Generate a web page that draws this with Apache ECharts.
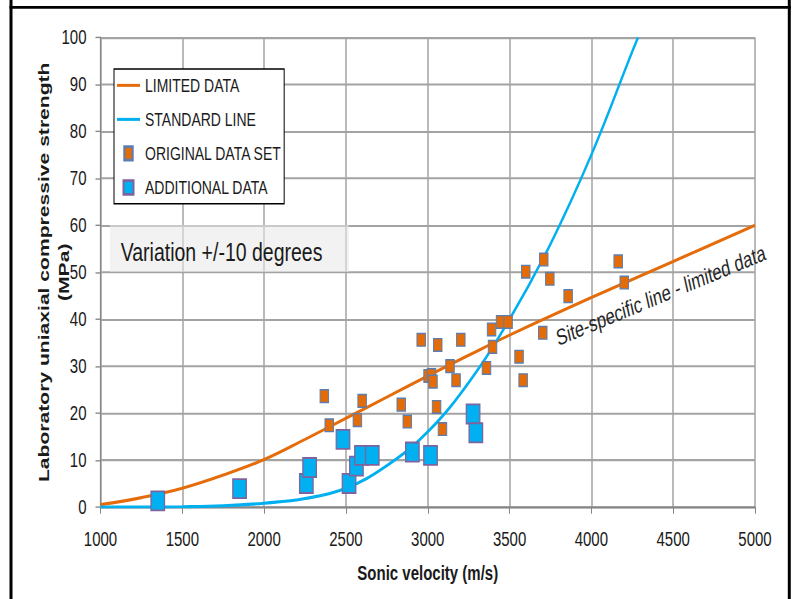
<!DOCTYPE html>
<html>
<head>
<meta charset="utf-8">
<script src="https://cdn.jsdelivr.net/npm/echarts@6/dist/echarts.min.js"></script>
<style>
html{margin:0;padding:0;background:#fff;overflow:hidden;}
body{margin:0;padding:0;background:#fff;width:792px;height:599px;}
#chart{width:792px;height:440px;transform:scaleY(1.36136);transform-origin:0 0;}
</style>
</head>
<body>
<div id="chart"></div>
<script>
// ---- data ----
const legendNames = ['LIMITED DATA', 'STANDARD LINE', 'ORIGINAL DATA SET', 'ADDITIONAL DATA'];

const limitedX = [1000, 1250, 1500, 1750, 2000, 2250, 2500, 2750, 3000, 3250, 3500, 4000, 4500, 5000];
const limitedY = [0.5, 2.0, 4.0, 6.8, 10.1, 14.4, 18.9, 23.4, 27.9, 32.3, 36.6, 44.6, 52.3, 60.0];

const standardX = [1000, 1250, 1500, 1750, 2000, 2250, 2500, 2750, 3000, 3250, 3500, 3750, 4000, 4250, 4285];
const standardY = [0, 0, 0.05, 0.25, 0.8, 1.8, 4.0, 8.8, 16.0, 26.5, 40.0, 56.0, 75.0, 97.0, 100];

const origX = [2368, 2398, 2570, 2599, 2838, 2875, 2960, 3002, 3023, 3032, 3061, 3054, 3090, 3136, 3173,
               3202, 3359, 3390, 3396, 3445, 3491, 3558, 3583, 3599, 3709, 3703, 3746, 3858, 4164, 4201];
const origY = [23.6, 17.4, 18.5, 22.6, 21.8, 18.2, 35.6, 27.9, 28.1, 26.7, 34.5, 21.3, 16.6, 30.0, 27.0,
               35.6, 29.6, 37.8, 34.1, 39.4, 39.4, 32.0, 27.0, 50.1, 52.7, 37.1, 48.6, 44.9, 52.3, 47.8];

const addX = [1350, 1850, 2258, 2278, 2482, 2519, 2564, 2595, 2661, 2906, 3017, 3277, 3294];
const addY = [1.3, 3.9, 5.0, 8.4, 14.4, 5.0, 8.7, 11.0, 11.0, 11.7, 11.0, 19.8, 15.8];

const xAxisMin = 1000, xAxisMax = 5000, xAxisStep = 500;
const yAxisMin = 0, yAxisMax = 100, yAxisStep = 10;

const xTitle = 'Sonic velocity (m/s)';
const yTitle = 'Laboratory uniaxial compressive strength\n(MPa)';
const boxNote = 'Variation +/-10 degrees';
const lineNote = 'Site-specific line - limited data';

// ---- chart ----
const FONT = '"Liberation Sans", Arial, sans-serif';
const pairs = (xs, ys) => xs.map((x, i) => [x, ys[i]]);

const chart = echarts.init(document.getElementById('chart'), null, {renderer: 'svg'});

const axisCommon = {
  axisLine: {show: true, onZero: false, lineStyle: {color: '#868686', width: 1.2}},
  axisTick: {show: true, inside: false, length: 5, lineStyle: {color: '#868686', width: 1}},
  splitLine: {show: true, lineStyle: {color: '#a3a3a3', width: 1.5}}
};

const legendIcons = ['path://M0 0H23V2.2H0Z', 'path://M0 0H23V2.2H0Z', 'path://M0 0H8.4V10H0Z', 'path://M0 0H10V10H0Z'];

const option = {
  animation: false,
  backgroundColor: '#ffffff',
  grid: {left: 100.5, right: 37, top: 27.5, bottom: 67.6, containLabel: false},
  xAxis: Object.assign({
    type: 'value', min: xAxisMin, max: xAxisMax, interval: xAxisStep,
    name: xTitle, nameLocation: 'middle', nameGap: 41,
    nameTextStyle: {fontFamily: FONT, fontSize: 15, fontWeight: 'bold', color: '#1a1a1a'},
    axisLabel: {margin: 16, fontFamily: FONT, fontSize: 15, color: '#1a1a1a', formatter: v => String(v)}
  }, axisCommon),
  yAxis: Object.assign({
    type: 'value', min: yAxisMin, max: yAxisMax, interval: yAxisStep,
    axisLabel: {margin: 14, fontFamily: FONT, fontSize: 15, color: '#1a1a1a', formatter: v => String(v)}
  }, axisCommon),
  legend: {
    show: true, orient: 'vertical', left: 114, top: 50.7,
    padding: [5, 2, 5, 3], itemGap: 11, itemWidth: 23, itemHeight: 10,
    backgroundColor: '#ffffff', borderColor: '#000000', borderWidth: 1, borderRadius: 0,
    textStyle: {fontFamily: FONT, fontSize: 14, color: '#1a1a1a', lineHeight: 14},
    selectedMode: false,
    data: legendNames.map((n, i) => ({name: n, icon: legendIcons[i]}))
  },
  series: [
    {
      name: legendNames[0], type: 'line', data: pairs(limitedX, limitedY),
      smooth: 0.4, symbol: 'none', z: 2,
      lineStyle: {color: '#E46C0A', width: 2.3}, itemStyle: {color: '#E46C0A'},
      emphasis: {disabled: true}
    },
    {
      name: legendNames[1], type: 'line', data: pairs(standardX, standardY),
      smooth: 0.4, symbol: 'none', z: 2,
      lineStyle: {color: '#00B0F0', width: 2.3}, itemStyle: {color: '#00B0F0'},
      emphasis: {disabled: true}
    },
    {
      name: legendNames[2], type: 'scatter', data: pairs(origX, origY),
      symbol: 'rect', symbolSize: [8.5, 9.3], z: 3,
      itemStyle: {color: '#E36C09', borderColor: '#5B7DB1', borderWidth: 1, opacity: 1},
      emphasis: {disabled: true}
    },
    {
      name: legendNames[3], type: 'scatter', data: pairs(addX, addY),
      symbol: 'rect', symbolSize: [13.5, 14], z: 4,
      itemStyle: {color: '#00B0F0', borderColor: '#7E649E', borderWidth: 1.3, opacity: 1},
      emphasis: {disabled: true}
    }
  ],
  graphic: [
    {type: 'line', z: 10, shape: {x1: 11, y1: 0, x2: 11, y2: 445}, style: {stroke: '#000', lineWidth: 3}},
    {type: 'line', z: 10, shape: {x1: 789.3, y1: 0, x2: 789.3, y2: 445}, style: {stroke: '#000', lineWidth: 3}},
    {type: 'line', z: 10, shape: {x1: 9.5, y1: 5.4, x2: 790.8, y2: 5.4}, style: {stroke: '#000', lineWidth: 2}},
    {type: 'rect', z: 5, shape: {x: 110, y: 165.3, width: 239, height: 34.5},
     style: {fill: 'rgba(232,232,232,0.56)'}},
    {type: 'text', z: 6, x: 120.7, y: 184.9,
     style: {text: boxNote, font: '19.5px ' + FONT, fill: '#1a1a1a',
             textAlign: 'left', textVerticalAlign: 'middle', align: 'left', verticalAlign: 'middle'}},
    {type: 'text', z: 6, x: 660.7, y: 216.7, rotation: 17 * Math.PI / 180,
     style: {text: lineNote, font: '16.5px ' + FONT, fill: '#262626',
             textAlign: 'center', textVerticalAlign: 'middle', align: 'center', verticalAlign: 'middle'}},
    {type: 'text', z: 6, x: 53.5, y: 200, rotation: Math.PI / 2,
     style: {text: yTitle, font: 'bold 15.5px ' + FONT, fill: '#1a1a1a', lineHeight: 20,
             textAlign: 'center', textVerticalAlign: 'middle', align: 'center', verticalAlign: 'middle'}}
  ]
};

chart.setOption(option);
</script>
</body>
</html>
